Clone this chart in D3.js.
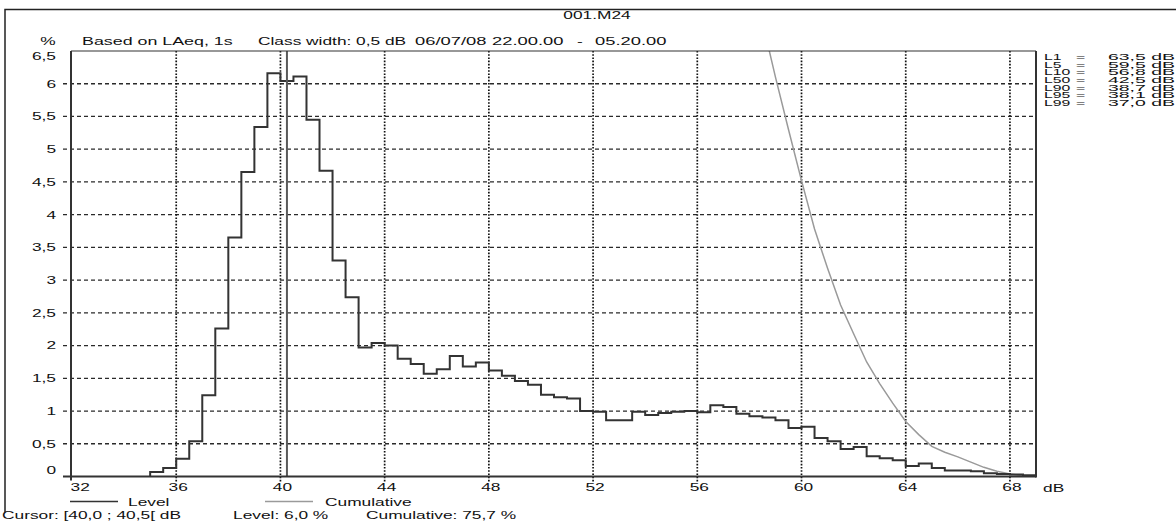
<!DOCTYPE html>
<html>
<head>
<meta charset="utf-8">
<script src="https://cdn.jsdelivr.net/npm/d3@7"></script>
<style>
  html, body { margin: 0; padding: 0; background: #fff; }
  svg { display: block; }
  text { font-family: "Liberation Sans", Arial, sans-serif; font-size: 10.5px; fill: #111; }
</style>
</head>
<body>
<svg id="chart" width="1176" height="525"></svg>
<script>
// ---- Data -------------------------------------------------------------
// Histogram classes: lower edge of the first class and class width (dB)
const firstClass = 35.0;
const classWidth = 0.5;

// Level distribution: % of time in each 0.5 dB class, starting at 35.0 dB
const levels = [
  0.07, 0.13, 0.27, 0.54, 1.24, 2.26,             // 35.0 - 37.5
  3.65, 4.65, 5.34, 6.16,                         // 38.0 - 39.5
  6.04, 6.11, 5.45, 4.67,                         // 40.0 - 41.5
  3.30, 2.74, 1.97, 2.04,                         // 42.0 - 43.5
  2.00, 1.80, 1.72, 1.57,                         // 44.0 - 45.5
  1.64, 1.84, 1.68, 1.74,                         // 46.0 - 47.5
  1.62, 1.54, 1.46, 1.40,                         // 48.0 - 49.5
  1.25, 1.21, 1.19, 1.00,                         // 50.0 - 51.5
  0.99, 0.86, 0.86, 0.99,                         // 52.0 - 53.5
  0.94, 0.97, 0.99, 1.00,                         // 54.0 - 55.5
  0.98, 1.09, 1.06, 0.96,                         // 56.0 - 57.5
  0.92, 0.90, 0.86, 0.74,                         // 58.0 - 59.5
  0.76, 0.59, 0.54, 0.42,                         // 60.0 - 61.5
  0.45, 0.31, 0.28, 0.25,                         // 62.0 - 63.5
  0.16, 0.20, 0.13, 0.09,                         // 64.0 - 65.5
  0.09, 0.08, 0.05, 0.04,                         // 66.0 - 67.5
  0.03, 0.02                                      // 68.0 - 68.5
];

// Cumulative distribution: % of time above each class edge
const cumEdges = [58.5, 59, 59.5, 60, 60.5, 61, 61.5, 62, 62.5, 63, 63.5,
                  64, 64.5, 65, 65.5, 66, 66.5, 67, 67.5, 68, 68.5, 69];
const cumulative = [6.95, 6.10, 5.30, 4.52, 3.78, 3.18, 2.62, 2.18, 1.75, 1.42, 1.12,
                    0.84, 0.64, 0.46, 0.37, 0.30, 0.22, 0.14, 0.08, 0.04, 0.01, 0.0];

// Axis ticks
const xTicks = [32, 36, 40, 44, 48, 52, 56, 60, 64, 68];
const yTicks = [0, 0.5, 1, 1.5, 2, 2.5, 3, 3.5, 4, 4.5, 5, 5.5, 6, 6.5];

// Percentile levels
const statNames  = ["L1", "L5", "L10", "L50", "L90", "L95", "L99"];
const statValues = [63.5, 59.5, 56.8, 42.5, 38.7, 38.1, 37.0];

// Cursor readout
const cursorClass = [40.0, 40.5];
const cursorCumulative = 75.7;

// ---- Layout -----------------------------------------------------------
const SX = 1.65;                       // horizontal stretch of the label font
const fmt1 = v => d3.format(".1f")(v).replace(".", ",");
const fmtTick = v => String(v).replace(".", ",");

const svg = d3.select("#chart");

const x = d3.scaleLinear().domain([32, 69]).range([72, 1036]);
const y = d3.scaleLinear().domain([0, 6.5]).range([476.5, 51]);

function label(parent, px, py, s, anchor, sx, sy) {
  return parent.append("text")
    .attr("transform", `translate(${px},${py}) scale(${sx || SX},${sy || 1})`)
    .attr("text-anchor", anchor || "start")
    .text(s);
}

// Outer window frame
svg.append("path")
  .attr("d", "M5,512 V9.5 H1176")
  .attr("fill", "none").attr("stroke", "#222").attr("stroke-width", 1.5);

// Header
label(svg, 597, 19, "001.M24", "middle");
label(svg, 48, 44.5, "%", "middle");
label(svg, 82, 44.5, "Based on LAeq, 1s", "start", 1.7);
label(svg, 258, 44.5, "Class width: 0,5 dB");
label(svg, 415, 44.5, "06/07/08", "start", 1.75);
label(svg, 492, 44.5, "22.00.00", "start", 1.75);
label(svg, 577, 44.5, "-");
label(svg, 595, 44.5, "05.20.00", "start", 1.75);

// Grid: dashed horizontals, dotted verticals
const grid = svg.append("g");
grid.selectAll("line.h")
  .data(yTicks.filter(d => d > 0 && d < 6.5))
  .join("line").attr("class", "h")
  .attr("x1", 63).attr("x2", x(69))
  .attr("y1", d => y(d)).attr("y2", d => y(d))
  .attr("stroke", "#2a2a2a").attr("stroke-width", 1.3)
  .attr("stroke-dasharray", "4,3");
grid.selectAll("line.v")
  .data(xTicks.filter(d => d > 32))
  .join("line").attr("class", "v")
  .attr("x1", d => x(d)).attr("x2", d => x(d))
  .attr("y1", y(6.5)).attr("y2", y(0) + 5)
  .attr("stroke", "#111").attr("stroke-width", 1.7)
  .attr("stroke-dasharray", "1.6,1.6");

// Clip for the plot area
svg.append("clipPath").attr("id", "plot")
  .append("rect")
  .attr("x", x(32)).attr("y", y(6.5))
  .attr("width", x(69) - x(32)).attr("height", y(0) - y(6.5));

// Cumulative curve
const cumPts = cumEdges.map((e, i) => [e, cumulative[i]]);
svg.append("path")
  .attr("clip-path", "url(#plot)")
  .attr("d", d3.line().x(d => x(d[0])).y(d => y(d[1]))(cumPts))
  .attr("fill", "none").attr("stroke", "#9a9a9a").attr("stroke-width", 1.5);

// Level histogram as a step line
const levelPts = [[firstClass, 0]]
  .concat(levels.map((v, i) => [firstClass + i * classWidth, v]))
  .concat([[firstClass + levels.length * classWidth, 0]]);
svg.append("path")
  .attr("d", d3.line().curve(d3.curveStepAfter).x(d => x(d[0])).y(d => y(d[1]))(levelPts))
  .attr("fill", "none").attr("stroke", "#333").attr("stroke-width", 2)
  .attr("stroke-linejoin", "miter");

// Cursor line at the centre of the selected class
const cursorX = x((cursorClass[0] + cursorClass[1]) / 2);
svg.append("line")
  .attr("x1", cursorX).attr("x2", cursorX)
  .attr("y1", y(6.5)).attr("y2", y(0))
  .attr("stroke", "#5a5a5a").attr("stroke-width", 2);

// Plot frame
const frame = svg.append("g").attr("fill", "none").attr("stroke", "#333");
frame.append("line").attr("x1", x(32) - 1).attr("x2", x(32) - 1)
  .attr("y1", y(6.5)).attr("y2", y(0) + 4).attr("stroke-width", 2);
frame.append("line").attr("x1", 63).attr("x2", x(69))
  .attr("y1", y(0)).attr("y2", y(0)).attr("stroke-width", 2);
frame.append("line").attr("x1", x(69)).attr("x2", x(69))
  .attr("y1", y(6.5)).attr("y2", y(0) + 1).attr("stroke-width", 2);
frame.append("line").attr("x1", x(32) - 1).attr("x2", x(69))
  .attr("y1", y(6.5)).attr("y2", y(6.5)).attr("stroke-width", 1.2);

// Axis labels
const xAxis = svg.append("g")
  .attr("transform", `translate(0,${y(0)})`)
  .call(d3.axisBottom(x).tickValues(xTicks).tickSize(0).tickPadding(7).tickFormat(d3.format("d")));
xAxis.select(".domain").remove();
xAxis.attr("font-family", null).attr("font-size", null);
xAxis.selectAll("text")
  .attr("fill", null)
  .attr("transform", `scale(${SX},1)`)
  .attr("x", d => d === 32 ? -2 / SX : 1.5 / SX)
  .attr("text-anchor", d => d === 32 ? "start" : "middle");
label(svg, 1043, 492, "dB");

const yAxis = svg.append("g")
  .attr("transform", `translate(${x(32)},0)`)
  .call(d3.axisLeft(y).tickValues(yTicks).tickSize(0).tickFormat(fmtTick));
yAxis.select(".domain").remove();
yAxis.attr("font-family", null).attr("font-size", null);
yAxis.selectAll("text")
  .attr("fill", null)
  .attr("transform", `scale(${SX},1)`)
  .attr("x", -16 / SX)
  .attr("y", d => d === 6.5 ? 5 : (d === 0 ? -6 : 0));

// Percentile table (tight rows, slightly flattened glyphs)
const stats = svg.append("g");
statNames.forEach((n, i) => {
  const py = 60 + i * 7.67;
  label(stats, 1044, py, n, "start", 1.5, 0.82);
  label(stats, 1076, py, "=", "start", 1.5, 0.82);
  label(stats, 1108, py, fmt1(statValues[i]) + " dB", "start", 1.85, 0.82);
});

// Legend
svg.append("line").attr("x1", 70).attr("x2", 118).attr("y1", 501.5).attr("y2", 501.5)
  .attr("stroke", "#333").attr("stroke-width", 1.5);
label(svg, 128, 505.5, "Level");
svg.append("line").attr("x1", 265).attr("x2", 313).attr("y1", 501.5).attr("y2", 501.5)
  .attr("stroke", "#9a9a9a").attr("stroke-width", 1.5);
label(svg, 325, 505.5, "Cumulative");

// Cursor readout
const cursorIdx = Math.round((cursorClass[0] - firstClass) / classWidth);
label(svg, 2, 519, `Cursor: [${fmt1(cursorClass[0])} ; ${fmt1(cursorClass[1])}[ dB`);
label(svg, 233, 519, `Level: ${fmt1(levels[cursorIdx])} %`);
label(svg, 366, 519, `Cumulative: ${fmt1(cursorCumulative)} %`);
</script>
</body>
</html>
